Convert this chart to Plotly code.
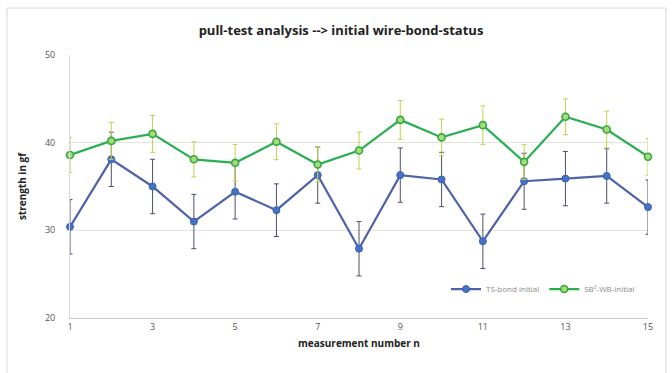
import plotly.graph_objects as go

measurement = list(range(1, 16))
ts_bond = [30.4, 38.1, 35.0, 31.0, 34.4, 32.3, 36.3, 27.9, 36.3, 35.8, 28.75, 35.6, 35.9, 36.2, 32.65]
ts_err = [3.1, 3.1, 3.1, 3.1, 3.1, 3.0, 3.2, 3.1, 3.1, 3.1, 3.1, 3.2, 3.1, 3.1, 3.1]
sb_wb = [38.6, 40.2, 41.0, 38.1, 37.7, 40.1, 37.5, 39.1, 42.6, 40.6, 42.0, 37.8, 42.95, 41.5, 38.4]
sb_err = [2.0, 2.1, 2.1, 2.0, 2.1, 2.05, 2.0, 2.1, 2.2, 2.1, 2.2, 2.0, 2.05, 2.1, 2.1]
x_ticks = [1, 3, 5, 7, 9, 11, 13, 15]
y_ticks = [20, 30, 40, 50]

fig = go.Figure()
fig.add_trace(go.Scatter(
    x=measurement, y=ts_bond, name="TS-bond initial", mode="lines+markers",
    line=dict(color="#4d62a8", width=2.2),
    marker=dict(color="#4472c4", size=7, line=dict(color="#3f60b0", width=1)),
    error_y=dict(type="data", array=ts_err, visible=True, color="#4a5068", thickness=1, width=2.5),
    cliponaxis=False,
))
fig.add_trace(go.Scatter(
    x=measurement, y=sb_wb, name="SB²-WB-initial", mode="lines+markers",
    line=dict(color="#28b050", width=2.2),
    marker=dict(color="#a8dc78", size=7, line=dict(color="#34a844", width=1.6)),
    error_y=dict(type="data", array=sb_err, visible=True, color="#c4d24a", thickness=1, width=2.5),
    cliponaxis=False,
))

W0, H0 = 578.0, 263.0
fig.add_shape(type="rect", xref="paper", yref="paper",
              x0=(7 - 70) / W0, x1=(666 - 70) / W0,
              y0=(318 - 380) / H0, y1=(318 - 8) / H0,
              line=dict(color="#d8d8d8", width=1), fillcolor="rgba(0,0,0,0)", layer="below")

fig.update_layout(
    width=672, height=373,
    margin=dict(l=70, r=24, t=55, b=55),
    paper_bgcolor="white", plot_bgcolor="white",
    font=dict(family="Open Sans, Liberation Sans, sans-serif", color="#404040"),
    title=dict(text="<b>pull-test analysis --> initial wire-bond-status</b>",
               x=(341 - 70) / W0, xanchor="center", xref="paper", y=1 - 30 / 373, yanchor="middle",
               font=dict(size=13, color="#222222", family="Open Sans, sans-serif")),
    showlegend=True,
    legend=dict(orientation="h", x=(446 - 70) / W0, y=0.11, xanchor="left", yanchor="middle",
                bgcolor="rgba(0,0,0,0)", font=dict(size=8, color="#8a8a8a"),
                itemwidth=30, tracegroupgap=0),
    xaxis=dict(range=[1, 15], tickvals=x_ticks, ticktext=[str(t) for t in x_ticks],
               showgrid=False, zeroline=False, showline=True, linecolor="#c8c8c8", linewidth=1,
               ticks="", tickfont=dict(size=9, color="#555555"),
               title=dict(text="<b>measurement number n</b>", font=dict(size=10, color="#222222"), standoff=8)),
    yaxis=dict(range=[20, 50], tickvals=y_ticks, ticktext=[str(t) for t in y_ticks],
               showgrid=True, gridcolor="#e6e2dc", gridwidth=1, zeroline=False,
               showline=True, linecolor="#d8d8d8", linewidth=1, ticks="",
               tickfont=dict(size=9, color="#555555"), ticklabelstandoff=12,
               title=dict(text="<b>strength in gf</b>", font=dict(size=10, color="#222222"), standoff=16)),
)

fig.write_html("out.html")
